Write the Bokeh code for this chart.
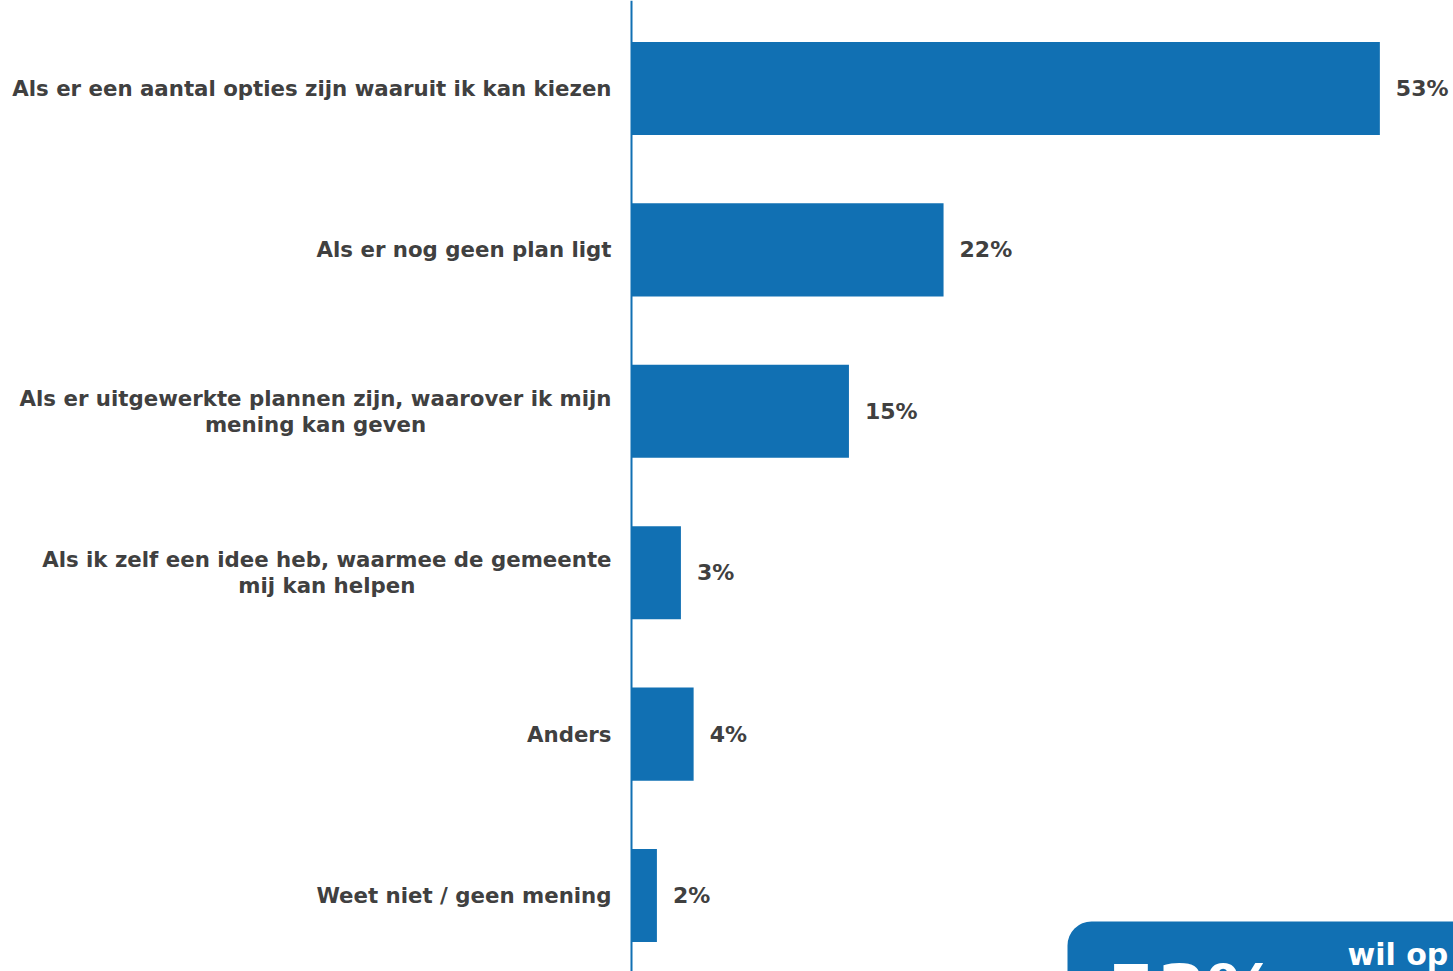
from bokeh.plotting import figure
from bokeh.models import Range1d, ColumnDataSource, BoxAnnotation, Label, Span
from bokeh.core.properties import value
from bokeh.embed import file_html
from bokeh.resources import INLINE

categories = [
    "Als er een aantal opties zijn waaruit ik kan kiezen",
    "Als er nog geen plan ligt",
    "Als er uitgewerkte plannen zijn, waarover ik mijn\nmening kan geven",
    "Als ik zelf een idee heb, waarmee de gemeente\nmij kan helpen",
    "Anders",
    "Weet niet / geen mening",
]
values = [53.0, 22.1, 15.4, 3.5, 4.4, 1.8]
labels = ["53%", "22%", "15%", "3%", "4%", "2%"]

BLUE = "#1170b3"
GREY = "#404040"
FONT = "DejaVu Sans"

W, H = 1453, 971
AXIS_PX = 631.0
PX_PER_UNIT = 14.12
ROW_PX = 161.4
FIRST_PX = 88.0

x0 = -AXIS_PX / PX_PER_UNIT
x1 = (W - AXIS_PX) / PX_PER_UNIT
ytop = -FIRST_PX / ROW_PX
ybot = (H - FIRST_PX) / ROW_PX

p = figure(width=W, height=H, output_backend="svg", toolbar_location=None,
           x_range=Range1d(x0, x1), y_range=Range1d(ybot, ytop),
           min_border=0, outline_line_color=None)
p.axis.visible = False
p.grid.visible = False
p.background_fill_color = "white"
p.border_fill_color = "white"

ys = list(range(len(categories)))
src = ColumnDataSource(dict(y=ys, v=values, lab=labels, cat=categories, zero=[0] * len(ys)))

p.hbar(y="y", left=0, right="v", height=0.577, source=src, fill_color=BLUE, line_color=None)
p.add_layout(Span(location=0, dimension="height", line_color=BLUE, line_width=2))

p.text(x="v", y="y", text="lab", source=src, x_offset=16, text_align="left",
       text_baseline="middle", text_font=value(FONT), text_font_style="bold",
       text_font_size="22px", text_color=GREY)

p.text(x="zero", y="y", text="cat", source=src, x_offset=-20, text_align="center",
       anchor="center_right", text_baseline="middle", text_font=value(FONT),
       text_font_style="bold", text_font_size="21.3px", text_color=GREY,
       text_line_height=1.04)

# cut-off callout box at bottom right
box_left = (1067 - AXIS_PX) / PX_PER_UNIT
box_top = (921 - FIRST_PX) / ROW_PX
p.add_layout(BoxAnnotation(left=box_left, right=x1 + 5, top=box_top, bottom=ybot + 1,
                           fill_color=BLUE, fill_alpha=1.0, line_color=None,
                           border_radius=24))
p.add_layout(Label(x=box_left, y=box_top, x_offset=39, y_offset=-27, text="53%",
                   text_font=FONT, text_font_style="bold", text_font_size="72px",
                   text_color="white", text_baseline="top"))
p.add_layout(Label(x=box_left, y=box_top, x_offset=280, y_offset=-33, text="wil op",
                   text_font=FONT, text_font_style="bold", text_font_size="30px",
                   text_color="white", text_baseline="alphabetic"))

open("out.html", "w").write(file_html(p, INLINE))
